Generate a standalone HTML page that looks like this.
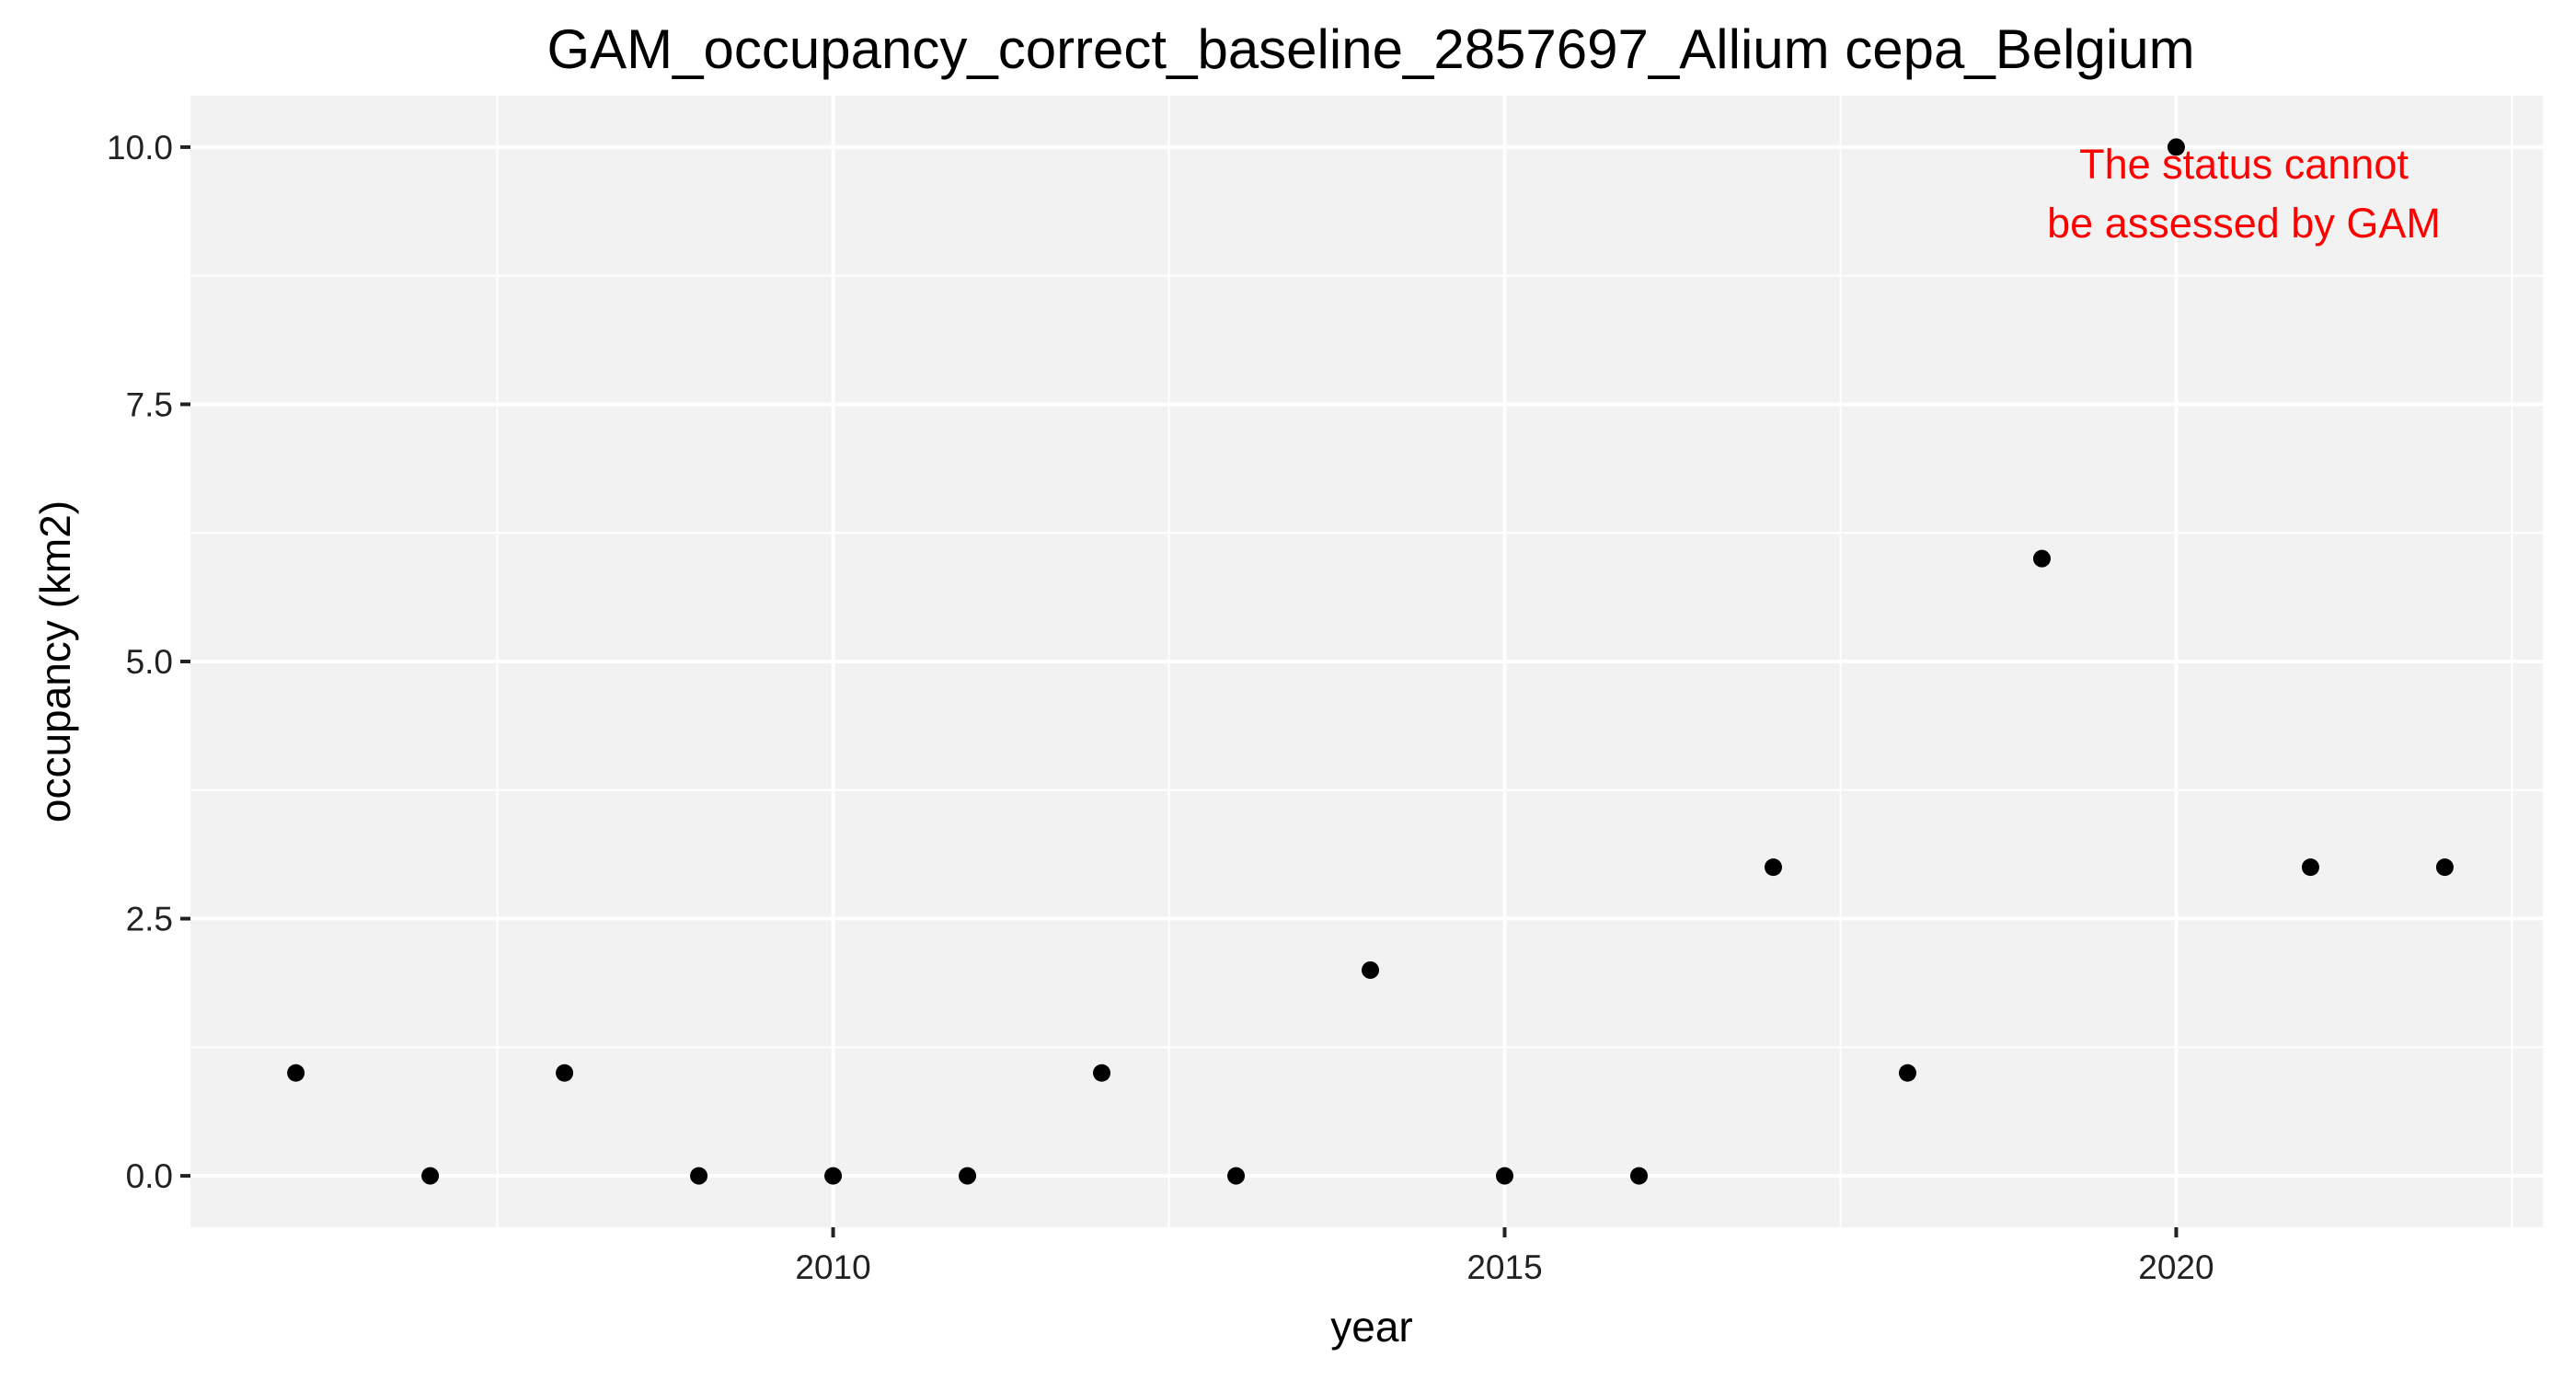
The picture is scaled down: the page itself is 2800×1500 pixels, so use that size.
<!DOCTYPE html>
<html><head><meta charset="utf-8"><style>
html,body{margin:0;padding:0;background:#fff;}
svg{display:block;font-family:"Liberation Sans",Arial,sans-serif;}
</style></head><body>
<svg id="chart" width="2800" height="1500" viewBox="0 0 2800 1500" xmlns="http://www.w3.org/2000/svg">
<rect width="2800" height="1500" fill="#fff"/>
<text x="1490" y="74" font-size="60" text-anchor="middle" fill="#000">GAM_occupancy_correct_baseline_2857697_Allium cepa_Belgium</text>
<rect x="207" y="104" width="2557" height="1230" fill="#f2f2f2"/>
<g id="grid"></g>
<g id="axes"></g>
<g id="points"></g>
<text x="2439" y="194" font-size="45" text-anchor="middle" fill="#ff0000">The status cannot</text>
<text x="2439" y="258" font-size="45" text-anchor="middle" fill="#ff0000">be assessed by GAM</text>
<text x="1491" y="1458" font-size="46" text-anchor="middle" fill="#000">year</text>
<text transform="translate(76,719) rotate(-90)" font-size="46" text-anchor="middle" fill="#000">occupancy (km2)</text>
</svg>
<script>
const years = [2006,2007,2008,2009,2010,2011,2012,2013,2014,2015,2016,2017,2018,2019,2020,2021,2022];
const occupancy = [1,0,1,0,0,0,1,0,2,0,0,3,1,6,10,3,3];
const xTicks = [2010,2015,2020];
const xTickLabels = ["2010","2015","2020"];
const xMinor = [2007.5,2012.5,2017.5,2022.5];
const yTicks = [0,2.5,5,7.5,10];
const yTickLabels = ["0.0","2.5","5.0","7.5","10.0"];
const yMinor = [1.25,3.75,6.25,8.75];

const L=207,R=2764,T=104,B=1334;
const xMin=2005.215,xMax=2022.73,yMin=-0.5,yMax=10.5;
const xs=v=>L+(v-xMin)/(xMax-xMin)*(R-L);
const ys=v=>B-(v-yMin)/(yMax-yMin)*(B-T);
const NS="http://www.w3.org/2000/svg";
function mk(tag,attrs,parent){const e=document.createElementNS(NS,tag);for(const k in attrs)e.setAttribute(k,attrs[k]);parent.appendChild(e);return e;}
const grid=document.getElementById('grid'),axes=document.getElementById('axes'),pts=document.getElementById('points');
xMinor.forEach(v=>{const l=mk('line',{x1:xs(v),x2:xs(v),y1:T,y2:B,stroke:'#fff','stroke-width':2},grid);

});
yMinor.forEach(v=>{const l=mk('line',{x1:L,x2:R,y1:ys(v),y2:ys(v),stroke:'#fff','stroke-width':2},grid);

});
xTicks.forEach((v,i)=>{const l=mk('line',{x1:xs(v),x2:xs(v),y1:T,y2:B,stroke:'#fff','stroke-width':4},grid);


const t=mk('line',{x1:xs(v),x2:xs(v),y1:B,y2:B+11,stroke:'#222','stroke-width':4},axes);


const tx=mk('text',{x:xs(v),y:1390,'font-size':37,'text-anchor':'middle',fill:'#222'},axes);
tx.textContent=xTickLabels[i];

});
yTicks.forEach((v,i)=>{const l=mk('line',{x1:L,x2:R,y1:ys(v),y2:ys(v),stroke:'#fff','stroke-width':4},grid);


const t=mk('line',{x1:L-11,x2:L,y1:ys(v),y2:ys(v),stroke:'#222','stroke-width':4},axes);


const tx=mk('text',{x:L-19,y:ys(v)+13,'font-size':37,'text-anchor':'end',fill:'#222'},axes);
tx.textContent=yTickLabels[i];

});
years.forEach((y,i)=>{const c=mk('circle',{cx:xs(y),cy:ys(occupancy[i]),r:9.5,fill:'#000'},pts);

});
</script>
</body></html>
